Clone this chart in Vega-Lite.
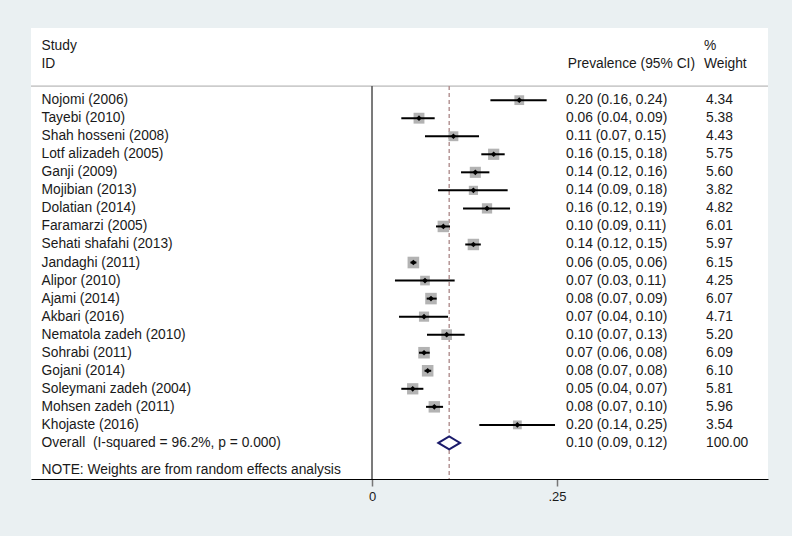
{
  "$schema": "https://vega.github.io/schema/vega-lite/v6.json",
  "autosize": "none",
  "width": 737,
  "height": 451,
  "padding": {"left": 31, "top": 28, "right": 24, "bottom": 57},
  "background": "#eaf0f2",
  "config": {
    "view": {"stroke": null, "fill": "white"},
    "text": {"font": "Liberation Sans", "fontSize": 13.8, "color": "#1a1a1a", "align": "left", "baseline": "middle"}
  },
  "datasets": {
    "rows": [
      {"study": "Nojomi (2006)", "es": 0.199, "lo": 0.160, "hi": 0.236, "ci": "0.20 (0.16, 0.24)", "weight": 4.34, "kind": "study"},
      {"study": "Tayebi (2010)", "es": 0.0635, "lo": 0.0396, "hi": 0.0847, "ci": "0.06 (0.04, 0.09)", "weight": 5.38, "kind": "study"},
      {"study": "Shah hosseni (2008)", "es": 0.110, "lo": 0.0716, "hi": 0.1446, "ci": "0.11 (0.07, 0.15)", "weight": 4.43, "kind": "study"},
      {"study": "Lotf alizadeh (2005)", "es": 0.1644, "lo": 0.1477, "hi": 0.1793, "ci": "0.16 (0.15, 0.18)", "weight": 5.75, "kind": "study"},
      {"study": "Ganji (2009)", "es": 0.1396, "lo": 0.1203, "hi": 0.1586, "ci": "0.14 (0.12, 0.16)", "weight": 5.60, "kind": "study"},
      {"study": "Mojibian (2013)", "es": 0.137, "lo": 0.0892, "hi": 0.1833, "ci": "0.14 (0.09, 0.18)", "weight": 3.82, "kind": "study"},
      {"study": "Dolatian (2014)", "es": 0.1554, "lo": 0.123, "hi": 0.1865, "ci": "0.16 (0.12, 0.19)", "weight": 4.82, "kind": "study"},
      {"study": "Faramarzi (2005)", "es": 0.0964, "lo": 0.0865, "hi": 0.1054, "ci": "0.10 (0.09, 0.11)", "weight": 6.01, "kind": "study"},
      {"study": "Sehati shafahi (2013)", "es": 0.137, "lo": 0.126, "hi": 0.147, "ci": "0.14 (0.12, 0.15)", "weight": 5.97, "kind": "study"},
      {"study": "Jandaghi (2011)", "es": 0.0559, "lo": 0.052, "hi": 0.060, "ci": "0.06 (0.05, 0.06)", "weight": 6.15, "kind": "study"},
      {"study": "Alipor (2010)", "es": 0.0716, "lo": 0.031, "hi": 0.1117, "ci": "0.07 (0.03, 0.11)", "weight": 4.25, "kind": "study"},
      {"study": "Ajami (2014)", "es": 0.0797, "lo": 0.0739, "hi": 0.0874, "ci": "0.08 (0.07, 0.09)", "weight": 6.07, "kind": "study"},
      {"study": "Akbari (2016)", "es": 0.0703, "lo": 0.0365, "hi": 0.1027, "ci": "0.07 (0.04, 0.10)", "weight": 4.71, "kind": "study"},
      {"study": "Nematola zadeh (2010)", "es": 0.1009, "lo": 0.0743, "hi": 0.1252, "ci": "0.10 (0.07, 0.13)", "weight": 5.20, "kind": "study"},
      {"study": "Sohrabi (2011)", "es": 0.0703, "lo": 0.0635, "hi": 0.078, "ci": "0.07 (0.06, 0.08)", "weight": 6.09, "kind": "study"},
      {"study": "Gojani (2014)", "es": 0.0752, "lo": 0.071, "hi": 0.080, "ci": "0.08 (0.07, 0.08)", "weight": 6.10, "kind": "study"},
      {"study": "Soleymani zadeh (2004)", "es": 0.055, "lo": 0.0396, "hi": 0.0694, "ci": "0.05 (0.04, 0.07)", "weight": 5.81, "kind": "study"},
      {"study": "Mohsen zadeh (2011)", "es": 0.0842, "lo": 0.073, "hi": 0.096, "ci": "0.08 (0.07, 0.10)", "weight": 5.96, "kind": "study"},
      {"study": "Khojaste (2016)", "es": 0.1964, "lo": 0.145, "hi": 0.2473, "ci": "0.20 (0.14, 0.25)", "weight": 3.54, "kind": "study"},
      {"study": "Overall\u00a0 (I-squared = 96.2%, p = 0.000)", "es": 0.1043, "lo": 0.0896, "hi": 0.1189, "ci": "0.10 (0.09, 0.12)", "weight": 100.00, "kind": "overall"}
    ],
    "header": [
      {"study": "Study", "c1": "Study", "c2": "", "c3": "%"},
      {"study": "ID", "c1": "ID", "c2": "Prevalence (95% CI)", "c3": "Weight"}
    ],
    "note": [
      {"study": "NOTE", "text": "NOTE: Weights are from random effects analysis"}
    ]
  },
  "encoding": {
    "y": {
      "field": "study",
      "type": "nominal",
      "axis": null,
      "scale": {
        "domain": ["Study", "ID", "gap", "Nojomi (2006)", "Tayebi (2010)", "Shah hosseni (2008)", "Lotf alizadeh (2005)", "Ganji (2009)", "Mojibian (2013)", "Dolatian (2014)", "Faramarzi (2005)", "Sehati shafahi (2013)", "Jandaghi (2011)", "Alipor (2010)", "Ajami (2014)", "Akbari (2016)", "Nematola zadeh (2010)", "Sohrabi (2011)", "Gojani (2014)", "Soleymani zadeh (2004)", "Mohsen zadeh (2011)", "Khojaste (2016)", "Overall\u00a0 (I-squared = 96.2%, p = 0.000)", "NOTE"],
        "paddingInner": 0,
        "paddingOuter": 0.5
      }
    }
  },
  "layer": [
    {
      "data": {"name": "header"},
      "transform": [{"filter": "datum.study == 'ID'"}],
      "mark": {"type": "rule", "color": "#a8a8a8", "strokeWidth": 1},
      "encoding": {"y": {"datum": "gap", "bandPosition": 0.72}}
    },
    {
      "data": {"name": "header"},
      "transform": [{"filter": "datum.study == 'ID'"}],
      "mark": {"type": "rule", "color": "#5a5a5a", "strokeWidth": 1.6},
      "encoding": {
        "x": {
          "datum": 0,
          "type": "quantitative",
          "scale": {"domain": [-0.4608, 0.5351], "nice": false, "zero": false},
          "axis": {
            "values": [0, 0.25],
            "labelExpr": "replace(format(datum.value, '.2~f'), '0.', '.')",
            "domainColor": "#000000",
            "domainWidth": 1.2,
            "tickColor": "#777777",
            "tickSize": 7,
            "tickWidth": 1.5,
            "labelFont": "Liberation Sans",
            "labelFontSize": 13,
            "labelColor": "#1a1a1a",
            "labelPadding": 4,
            "grid": false,
            "title": null
          }
        },
        "y": {"datum": "gap", "bandPosition": 0.72},
        "y2": {"value": "height"}
      }
    },
    {
      "data": {"name": "rows"},
      "transform": [{"filter": "datum.kind == 'overall'"}],
      "mark": {"type": "rule", "color": "#b08e8e", "strokeWidth": 1.4, "strokeDash": [4, 3]},
      "encoding": {
        "x": {"field": "es", "type": "quantitative"},
        "y": {"datum": "gap", "bandPosition": 0.72},
        "y2": {"value": "height"}
      }
    },
    {
      "data": {"name": "rows"},
      "transform": [{"filter": "datum.kind == 'study'"}],
      "mark": {"type": "square", "filled": true, "color": "#b3b3b3", "opacity": 1},
      "encoding": {
        "x": {"field": "es", "type": "quantitative"},
        "size": {"field": "weight", "type": "quantitative", "scale": {"domain": [0, 6.15], "range": [0, 135]}, "legend": null}
      }
    },
    {
      "data": {"name": "rows"},
      "transform": [{"filter": "datum.kind == 'study'"}],
      "mark": {"type": "rule", "color": "#000000", "strokeWidth": 2},
      "encoding": {
        "x": {"field": "lo", "type": "quantitative"},
        "x2": {"field": "hi"}
      }
    },
    {
      "data": {"name": "rows"},
      "transform": [{"filter": "datum.kind == 'study'"}],
      "mark": {"type": "point", "shape": "diamond", "filled": true, "color": "#000000", "size": 32, "opacity": 1},
      "encoding": {
        "x": {"field": "es", "type": "quantitative"}
      }
    },
    {
      "data": {"name": "rows"},
      "transform": [{"filter": "datum.kind == 'overall'"}],
      "mark": {"type": "point", "shape": "M-1,0L0,-0.6L1,0L0,0.6Z", "filled": true, "fill": "white", "stroke": "#1b1b6b", "strokeWidth": 2, "size": 470, "opacity": 1},
      "encoding": {
        "x": {"field": "es", "type": "quantitative"}
      }
    },
    {
      "data": {"name": "rows"},
      "mark": {"type": "text"},
      "encoding": {
        "x": {"datum": -0.4466, "type": "quantitative"},
        "text": {"field": "study"}
      }
    },
    {
      "data": {"name": "rows"},
      "mark": {"type": "text"},
      "encoding": {
        "x": {"datum": 0.2622, "type": "quantitative"},
        "text": {"field": "ci"}
      }
    },
    {
      "data": {"name": "rows"},
      "mark": {"type": "text"},
      "encoding": {
        "x": {"datum": 0.4514, "type": "quantitative"},
        "text": {"field": "weight", "format": ".2f"}
      }
    },
    {
      "data": {"name": "header"},
      "mark": {"type": "text"},
      "encoding": {
        "x": {"datum": -0.4466, "type": "quantitative"},
        "text": {"field": "c1"}
      }
    },
    {
      "data": {"name": "header"},
      "mark": {"type": "text"},
      "encoding": {
        "x": {"datum": 0.2645, "type": "quantitative"},
        "text": {"field": "c2"}
      }
    },
    {
      "data": {"name": "header"},
      "mark": {"type": "text"},
      "encoding": {
        "x": {"datum": 0.4486, "type": "quantitative"},
        "text": {"field": "c3"}
      }
    },
    {
      "data": {"name": "note"},
      "mark": {"type": "text"},
      "encoding": {
        "x": {"datum": -0.4466, "type": "quantitative"},
        "y": {"field": "study", "type": "nominal", "bandPosition": 1},
        "text": {"field": "text"}
      }
    }
  ]
}
